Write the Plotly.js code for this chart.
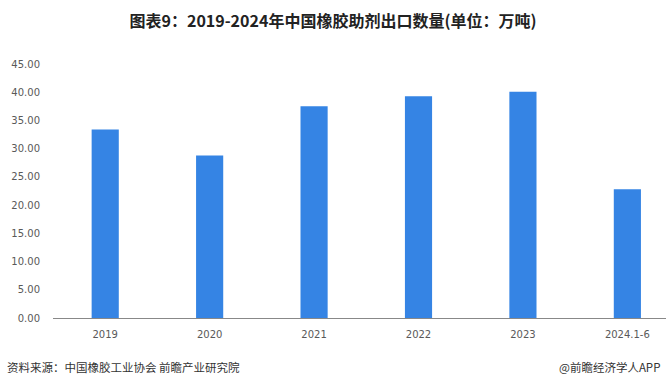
<!DOCTYPE html>
<html><head><meta charset="utf-8">
<script src="https://cdn.plot.ly/plotly-3.0.1.min.js"></script>
<style>html,body{margin:0;padding:0;background:#fff;}#c{width:666px;height:388px;}</style>
</head><body><div id="c"></div>
<script>
const categories = ["2019","2020","2021","2022","2023","2024.1-6"];
const values = [33.4, 28.8, 37.5, 39.3, 40.1, 22.8];
const yTicks = [0,5,10,15,20,25,30,35,40,45];

const trace = {
  type: 'bar', x: categories, y: values,
  marker: {color: '#3584E4'}, hoverinfo: 'none'
};
const tickFont = {family: 'DejaVu Sans, Verdana, sans-serif', size: 10, color: '#595959'};
const layout = {
  width: 666, height: 388,
  margin: {l: 53, r: 0, t: 64, b: 70},
  paper_bgcolor: '#fff', plot_bgcolor: '#fff',
  bargap: 0.74,
  showlegend: false,
  title: {text: '<b>图表9：2019-2024年中国橡胶助剂出口数量(单位：万吨)</b>',
    x: 0.5, xanchor: 'center', y: 0.945, yanchor: 'middle',
    font: {family: 'Noto Sans CJK SC, sans-serif', size: 16, color: '#222'}},
  xaxis: {type: 'category', range: [-0.5, 5.37], showline: true, linecolor: '#888', linewidth: 1,
    ticks: '', tickfont: tickFont,
    showgrid: false, zeroline: false, ticklabelstandoff: 7},
  yaxis: {range: [0, 45], tickvals: yTicks, tickformat: '.2f', showgrid: false, zeroline: false,
    showline: false, ticks: '', tickfont: tickFont,
    ticklabelstandoff: 12},
  annotations: [
    {text: '资料来源：中国橡胶工业协会 前瞻产业研究院', xref: 'paper', yref: 'paper', x: -53/613, y: -49/254,
     xanchor: 'left', yanchor: 'middle', showarrow: false, xshift: 5,
     font: {family: 'Noto Sans CJK SC, sans-serif', size: 11.5, color: '#333'}},
    {text: '@前瞻经济学人APP', xref: 'paper', yref: 'paper', x: 1, y: -49/254,
     xanchor: 'right', yanchor: 'middle', showarrow: false, xshift: -4,
     font: {family: 'Noto Sans CJK SC, sans-serif', size: 11.5, color: '#333'}}
  ]
};
Plotly.newPlot('c', [trace], layout, {staticPlot: true, displayModeBar: false});
</script></body></html>
